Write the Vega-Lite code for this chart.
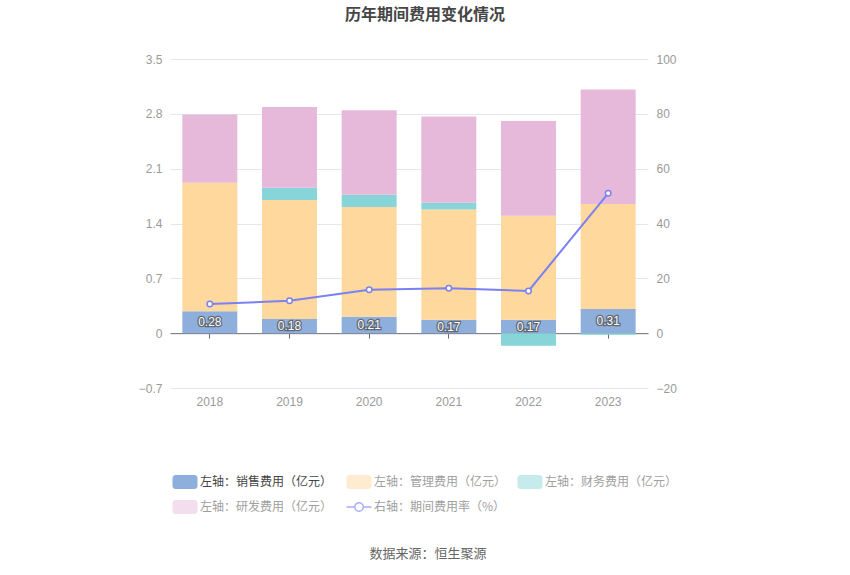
{
  "$schema": "https://vega.github.io/schema/vega-lite/v6.json",
  "autosize": "none",
  "width": 478,
  "height": 329,
  "padding": {"left": 170, "top": 59, "right": 202, "bottom": 187},
  "background": "#ffffff",
  "config": {
    "font": "Liberation Sans, Noto Sans CJK SC, sans-serif",
    "view": {"stroke": null},
    "axis": {"labelFont": "Liberation Sans, Noto Sans CJK SC, sans-serif", "labelFontSize": 12, "labelColor": "#9a9a9a", "title": null}
  },
  "title": {
    "text": "历年期间费用变化情况",
    "font": "Noto Sans CJK SC",
    "fontSize": 16,
    "fontWeight": "bold",
    "color": "#464646",
    "anchor": "middle",
    "frame": "group",
    "dx": 16,
    "offset": 30
  },
  "datasets": {
    "bars": [
      {"year": "2018", "type": "左轴：销售费用（亿元）", "value": 0.28},
      {"year": "2018", "type": "左轴：管理费用（亿元）", "value": 1.64},
      {"year": "2018", "type": "左轴：财务费用（亿元）", "value": 0.0},
      {"year": "2018", "type": "左轴：研发费用（亿元）", "value": 0.87},
      {"year": "2019", "type": "左轴：销售费用（亿元）", "value": 0.18},
      {"year": "2019", "type": "左轴：管理费用（亿元）", "value": 1.52},
      {"year": "2019", "type": "左轴：财务费用（亿元）", "value": 0.156},
      {"year": "2019", "type": "左轴：研发费用（亿元）", "value": 1.03},
      {"year": "2020", "type": "左轴：销售费用（亿元）", "value": 0.21},
      {"year": "2020", "type": "左轴：管理费用（亿元）", "value": 1.40},
      {"year": "2020", "type": "左轴：财务费用（亿元）", "value": 0.157},
      {"year": "2020", "type": "左轴：研发费用（亿元）", "value": 1.08},
      {"year": "2021", "type": "左轴：销售费用（亿元）", "value": 0.17},
      {"year": "2021", "type": "左轴：管理费用（亿元）", "value": 1.41},
      {"year": "2021", "type": "左轴：财务费用（亿元）", "value": 0.085},
      {"year": "2021", "type": "左轴：研发费用（亿元）", "value": 1.10},
      {"year": "2022", "type": "左轴：销售费用（亿元）", "value": 0.17},
      {"year": "2022", "type": "左轴：管理费用（亿元）", "value": 1.33},
      {"year": "2022", "type": "左轴：财务费用（亿元）", "value": -0.16},
      {"year": "2022", "type": "左轴：研发费用（亿元）", "value": 1.21},
      {"year": "2023", "type": "左轴：销售费用（亿元）", "value": 0.31},
      {"year": "2023", "type": "左轴：管理费用（亿元）", "value": 1.34},
      {"year": "2023", "type": "左轴：财务费用（亿元）", "value": -0.02},
      {"year": "2023", "type": "左轴：研发费用（亿元）", "value": 1.46}
    ],
    "rate": [
      {"year": "2018", "rate": 10.6},
      {"year": "2019", "rate": 11.8},
      {"year": "2020", "rate": 15.8},
      {"year": "2021", "rate": 16.4},
      {"year": "2022", "rate": 15.4},
      {"year": "2023", "rate": 51.0}
    ]
  },
  "encoding": {
    "x": {
      "field": "year",
      "type": "ordinal",
      "scale": {"paddingInner": 0.31, "paddingOuter": 0.155}
    }
  },
  "layer": [
    {
      "encoding": {
        "x": {
          "field": "year",
          "type": "ordinal",
          "axis": {"domain": false, "ticks": false, "labelAngle": 0, "labelPadding": 8, "labelColor": "#9a9a9a"}
        }
      },
      "layer": [
        {
          "data": {"name": "bars"},
          "transform": [
            {"calculate": "indexof(['左轴：销售费用（亿元）','左轴：管理费用（亿元）','左轴：财务费用（亿元）','左轴：研发费用（亿元）'], datum.type)", "as": "k"}
          ],
          "mark": {"type": "bar"},
          "encoding": {
            "y": {
              "field": "value",
              "type": "quantitative",
              "stack": "zero",
              "scale": {"domain": [-0.7, 3.5], "nice": false, "zero": false},
              "axis": {
                "values": [-0.7, 0, 0.7, 1.4, 2.1, 2.8, 3.5],
                "format": "~g",
                "domain": false,
                "ticks": false,
                "grid": true,
                "gridColor": "#e3e6ee",
                "labelPadding": 8
              }
            },
            "color": {
              "field": "type",
              "type": "nominal",
              "scale": {
                "domain": ["左轴：销售费用（亿元）", "左轴：管理费用（亿元）", "左轴：财务费用（亿元）", "左轴：研发费用（亿元）", "右轴：期间费用率（%）"],
                "range": ["#8eaedc", "#fed89c", "#87d5d8", "#e6b9da", "#7b80f2"]
              },
              "legend": {
                "orient": "none",
                "legendX": 9,
                "legendY": 417,
                "direction": "horizontal",
                "columns": 3,
                "columnPadding": 10,
                "rowPadding": 10,
                "symbolType": "M-0.76,-0.56 H0.76 A0.24,0.24 0 0 1 1,-0.32 V0.32 A0.24,0.24 0 0 1 0.76,0.56 H-0.76 A0.24,0.24 0 0 1 -1,0.32 V-0.32 A0.24,0.24 0 0 1 -0.76,-0.56 Z",
                "symbolSize": 625,
                "symbolStrokeWidth": 0,
                "labelFont": "Noto Sans CJK SC",
                "labelFontSize": 12,
                "labelColor": "#9a9a9a",
                "labelOffset": 9,
                "title": "数据来源：恒生聚源",
                "titleOrient": "bottom",
                "titleAnchor": "middle",
                "titleFont": "Noto Sans CJK SC",
                "titleFontSize": 13,
                "titleFontWeight": "normal",
                "titleColor": "#666666",
                "titlePadding": 34,
                "encode": {
                  "symbols": {
                    "update": {
                      "fillOpacity": {"signal": "datum.value === '左轴：销售费用（亿元）' ? 1 : datum.value === '右轴：期间费用率（%）' ? 0 : 0.48"},
                      "strokeOpacity": {"signal": "datum.value === '右轴：期间费用率（%）' ? 0.65 : 0"},
                      "stroke": {"value": "#7b80f2"},
                      "strokeWidth": {"signal": "datum.value === '右轴：期间费用率（%）' ? 1.5 : 0"},
                      "shape": {"signal": "datum.value === '右轴：期间费用率（%）' ? 'M-1,0 H-0.38 M0.38,0 H1 M0.34,0 A0.34,0.34 0 1 1 -0.34,0 A0.34,0.34 0 1 1 0.34,0 Z' : 'M-0.76,-0.56 H0.76 A0.24,0.24 0 0 1 1,-0.32 V0.32 A0.24,0.24 0 0 1 0.76,0.56 H-0.76 A0.24,0.24 0 0 1 -1,0.32 V-0.32 A0.24,0.24 0 0 1 -0.76,-0.56 Z'"}
                    }
                  },
                  "labels": {
                    "update": {
                      "fill": {"signal": "datum.value === '左轴：销售费用（亿元）' ? '#444444' : '#a0a0a0'"}
                    }
                  }
                }
              }
            },
            "order": {"field": "k", "type": "quantitative"}
          }
        },
        {
          "data": {"name": "bars"},
          "transform": [
            {"filter": "datum.type === '左轴：销售费用（亿元）'"},
            {"calculate": "datum.value / 2", "as": "mid"}
          ],
          "mark": {"type": "text", "font": "Liberation Sans", "fontSize": 12, "stroke": "#555555", "strokeWidth": 2.5, "strokeOpacity": 0.8, "fill": "#555555"},
          "encoding": {
            "y": {"field": "mid", "type": "quantitative"},
            "text": {"field": "value", "type": "quantitative", "format": ".2f"}
          }
        },
        {
          "data": {"name": "bars"},
          "transform": [
            {"filter": "datum.type === '左轴：销售费用（亿元）'"},
            {"calculate": "datum.value / 2", "as": "mid"}
          ],
          "mark": {"type": "text", "font": "Liberation Sans", "fontSize": 12, "fill": "#ffffff"},
          "encoding": {
            "y": {"field": "mid", "type": "quantitative"},
            "text": {"field": "value", "type": "quantitative", "format": ".2f"}
          }
        }
      ]
    },
    {
      "data": {"name": "rate"},
      "encoding": {
        "x": {
          "field": "year",
          "type": "ordinal",
          "axis": {"orient": "bottom", "offset": -54.83, "labels": false, "domain": true, "domainColor": "#6e7079", "ticks": true, "tickColor": "#6e7079", "tickSize": 5}
        },
        "y": {
          "field": "rate",
          "type": "quantitative",
          "scale": {"domain": [-20, 100], "nice": false, "zero": false},
          "axis": {"orient": "right", "values": [-20, 0, 20, 40, 60, 80, 100], "domain": false, "ticks": false, "grid": false, "labelPadding": 8}
        },
        "color": {"datum": "右轴：期间费用率（%）", "type": "nominal"}
      },
      "layer": [
        {"mark": {"type": "line", "strokeWidth": 2}},
        {"mark": {"type": "point", "filled": false, "fill": "#ffffff", "fillOpacity": 1, "strokeWidth": 1.5, "size": 30, "opacity": 1}}
      ]
    }
  ],
  "resolve": {"scale": {"y": "independent"}, "axis": {"x": "independent"}}
}
